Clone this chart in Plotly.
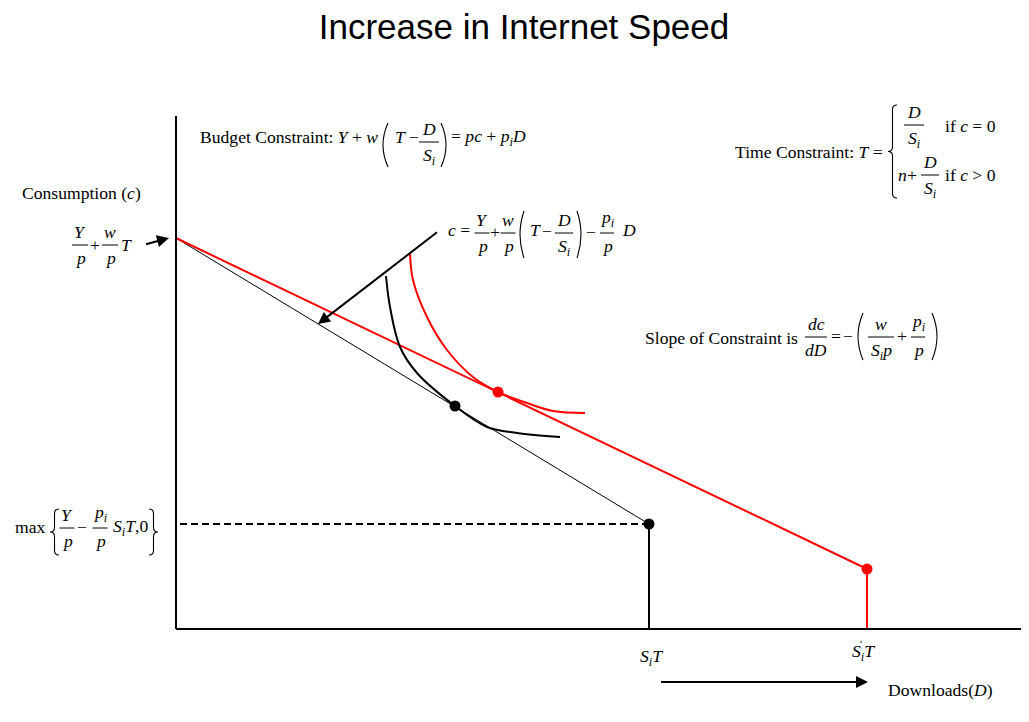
import plotly.graph_objects as go

# ---------------- data (economic units: D on x, c on y) ----------------
intercept_c = 391                      # Y/p + w/p T
black_end = [473, 105]                 # S_i T, max{...}
red_end = [691, 60]                    # S_i' T
black_opt = [279, 223]                 # tangency, old speed
red_opt = [322, 237]                   # tangency, new speed
black_ic_D = [210, 214, 224, 241, 279, 311, 341, 384]
black_ic_c = [353, 322, 282, 256, 223, 202, 196, 192]
red_ic_D = [234, 237, 251, 271, 297, 322, 351, 377, 409]
red_ic_c = [376, 349, 312, 279, 252, 237, 226, 218, 216]
axis_D_max = 853
axis_c_max = 513

# pixel helpers (1 unit = 1 px; origin of the axes at screen pixel (176, 629))
OX, OY = 176, 629
PAGE = 8  # browser body margin
def X(px): return px - OX
def Y(py): return OY - py

SERIF = "Liberation Serif, Times New Roman, serif"
FS = 17.6
ann, shapes = [], []

def T(px, py, text, size=FS, xanchor='left', yanchor='middle'):
    ann.append(dict(x=X(px), y=Y(py), xref='x', yref='y', text=text, showarrow=False,
                    xanchor=xanchor, yanchor=yanchor,
                    font=dict(family=SERIF, size=size, color='black')))

def hline(x0, x1, py, w=1):
    shapes.append(dict(type='line', xref='x', yref='y', x0=X(x0), x1=X(x1), y0=Y(py), y1=Y(py),
                       line=dict(color='black', width=w)))

def frac(xc, ybar, num, den, w, size=FS):
    T(xc, ybar - 1, num, size, 'center', 'bottom')
    T(xc, ybar + 1, den, size, 'center', 'top')
    hline(xc - w / 2, xc + w / 2, ybar, 1)

def paren(px, ytop, ybot, side, bulge=5):
    ym = (ytop + ybot) / 2
    xb = px - 2 * bulge if side == 'l' else px + 2 * bulge
    shapes.append(dict(type='path', xref='x', yref='y',
                       path=f"M {X(px)},{Y(ytop)} Q {X(xb)},{Y(ym)} {X(px)},{Y(ybot)}",
                       line=dict(color='black', width=1.1)))

def brace(px, ytop, ybot, side, w=9):
    ym = (ytop + ybot) / 2
    r = w / 2
    s = 1 if side == 'l' else -1
    xo, xm, xe = px, px + s * w / 2, px + s * w
    p = (f"M {X(xe)},{Y(ytop)} Q {X(xm)},{Y(ytop)} {X(xm)},{Y(ytop + r)} "
         f"L {X(xm)},{Y(ym - r)} Q {X(xm)},{Y(ym)} {X(xo)},{Y(ym)} "
         f"Q {X(xm)},{Y(ym)} {X(xm)},{Y(ym + r)} L {X(xm)},{Y(ybot - r)} "
         f"Q {X(xm)},{Y(ybot)} {X(xe)},{Y(ybot)}")
    shapes.append(dict(type='path', xref='x', yref='y', path=p,
                       line=dict(color='black', width=1.1)))

def arrow(x0, y0, x1, y1, w=2):
    ann.append(dict(x=X(x1), y=Y(y1), ax=X(x0), ay=Y(y0), xref='x', yref='y',
                    axref='x', ayref='y', showarrow=True, arrowhead=2, arrowsize=1.2,
                    arrowwidth=w, arrowcolor='black', text=' '))

Si = "<i>S</i><sub><i>i</i></sub>"
pi = "<i>p</i><sub><i>i</i></sub>"

# ---------------- figure ----------------
fig = go.Figure()

# axes
shapes.append(dict(type='line', xref='x', yref='y', x0=0, x1=0, y0=0, y1=axis_c_max,
                   line=dict(color='black', width=2)))
shapes.append(dict(type='line', xref='x', yref='y', x0=0, x1=axis_D_max, y0=0, y1=0,
                   line=dict(color='black', width=2)))

# budget lines
fig.add_trace(go.Scatter(x=[0, black_end[0]], y=[intercept_c, black_end[1]], mode='lines',
                         line=dict(color='black', width=1)))
fig.add_trace(go.Scatter(x=[0, red_end[0]], y=[intercept_c, red_end[1]], mode='lines',
                         line=dict(color='#ff0000', width=2)))
# dashed
fig.add_trace(go.Scatter(x=[4, black_end[0]], y=[black_end[1], black_end[1]], mode='lines',
                         line=dict(color='black', width=2, dash='7px,4px')))
# verticals
fig.add_trace(go.Scatter(x=[black_end[0], black_end[0]], y=[black_end[1], 0], mode='lines',
                         line=dict(color='black', width=2)))
fig.add_trace(go.Scatter(x=[red_end[0], red_end[0]], y=[red_end[1], 0], mode='lines',
                         line=dict(color='#ff0000', width=2)))
# indifference curves
fig.add_trace(go.Scatter(x=black_ic_D, y=black_ic_c, mode='lines', line_shape='spline',
                         line=dict(color='black', width=2)))
fig.add_trace(go.Scatter(x=red_ic_D, y=red_ic_c, mode='lines', line_shape='spline',
                         line=dict(color='#ff0000', width=2)))
# dots
fig.add_trace(go.Scatter(x=[black_opt[0], black_end[0]], y=[black_opt[1], black_end[1]],
                         mode='markers', marker=dict(color='black', size=11)))
fig.add_trace(go.Scatter(x=[red_opt[0], red_end[0]], y=[red_opt[1], red_end[1]],
                         mode='markers', marker=dict(color='#ff0000', size=11)))

# ---------------- text ----------------
# Budget constraint
T(198, 137, "Budget Constraint: <i>Y</i> + <i>w</i>")
paren(388, 123, 167, 'l')
T(393, 137, "<i>T</i>")
T(414, 137, "−", xanchor='center')
frac(429, 142, "<i>D</i>", Si, 20)
paren(441, 123, 167, 'r')
T(449, 137, "= <i>pc</i> + " + pi + "<i>D</i>")

# Time constraint
T(733, 152, "Time Constraint: <i>T</i> =")
brace(888, 105, 198, 'l')
frac(914, 125, "<i>D</i>", Si, 20)
T(943, 126, "if <i>c</i> = 0")
T(896, 175, "<i>n</i>")
T(912, 175, "+", xanchor='center')
frac(930, 175, "<i>D</i>", Si, 18)
T(943, 175, "if <i>c</i> > 0")

# Consumption label
T(20, 193, "Consumption (<i>c</i>)")
frac(80, 245, "<i>Y</i>", "<i>p</i>", 16)
T(95, 245, "+", xanchor='center')
frac(110, 245, "<i>w</i>", "<i>p</i>", 16)
T(119, 245, "<i>T</i>")
arrow(143, 245, 169, 238)

# c = ...
T(446, 230, "<i>c</i> =")
frac(482, 233, "<i>Y</i>", "<i>p</i>", 15)
T(495, 232, "+", xanchor='center')
frac(508, 233, "<i>w</i>", "<i>p</i>", 15)
paren(524, 211, 258, 'l', bulge=4)
T(528, 230, "<i>T</i>")
T(547, 231, "−", xanchor='center')
frac(564, 233, "<i>D</i>", Si, 18)
paren(577, 211, 258, 'r', bulge=4)
T(591, 232, "−", xanchor='center')
frac(607, 233, pi, "<i>p</i>", 14)
T(620, 230, "<i>D</i>")
arrow(440, 230, 318, 324)

# Slope
T(643, 338, "Slope of Constraint is")
frac(816, 337, "<i>dc</i>", "<i>dD</i>", 22)
T(836, 336, "=", xanchor='center')
T(848, 336, "−", xanchor='center')
paren(863, 313, 360, 'l')
frac(881, 337, "<i>w</i>", Si + "<i>p</i>", 26)
T(902, 336, "+", xanchor='center')
frac(918, 337, pi, "<i>p</i>", 14)
paren(932, 313, 360, 'r')

# max{...}
T(47, 527, "max", xanchor='right')
brace(50, 509, 555, 'l')
frac(67, 528, "<i>Y</i>", "<i>p</i>", 15)
T(82, 527, "−", xanchor='center')
frac(100, 528, pi, "<i>p</i>", 15)
T(111, 527, Si + "<i>T</i>,0")
brace(158, 509, 555, 'r')

# Bottom labels
T(651, 657, Si + "<i>T</i>", xanchor='center')
T(863, 652, Si + "<i>T</i>", xanchor='center')
T(861, 644, "'", size=11, xanchor='center')
T(886, 690, "Downloads(<i>D</i>)")
arrow(658, 682, 868, 682)

fig.update_layout(
    width=1029, height=722,
    margin=dict(l=0, r=0, t=0, b=0),
    paper_bgcolor='white', plot_bgcolor='white',
    showlegend=False,
    title=dict(text="Increase in Internet Speed", x=(524 - PAGE) / 1029, xanchor='center',
               y=1 - (27 - PAGE) / 722, yanchor='middle',
               font=dict(family="Liberation Sans, Arial, sans-serif", size=35, color='black')),
    xaxis=dict(range=[X(PAGE), X(PAGE + 1029)], visible=False, fixedrange=True),
    yaxis=dict(range=[Y(PAGE + 722), Y(PAGE)], visible=False, fixedrange=True),
    annotations=ann, shapes=shapes,
)

fig.write_html("out.html")
